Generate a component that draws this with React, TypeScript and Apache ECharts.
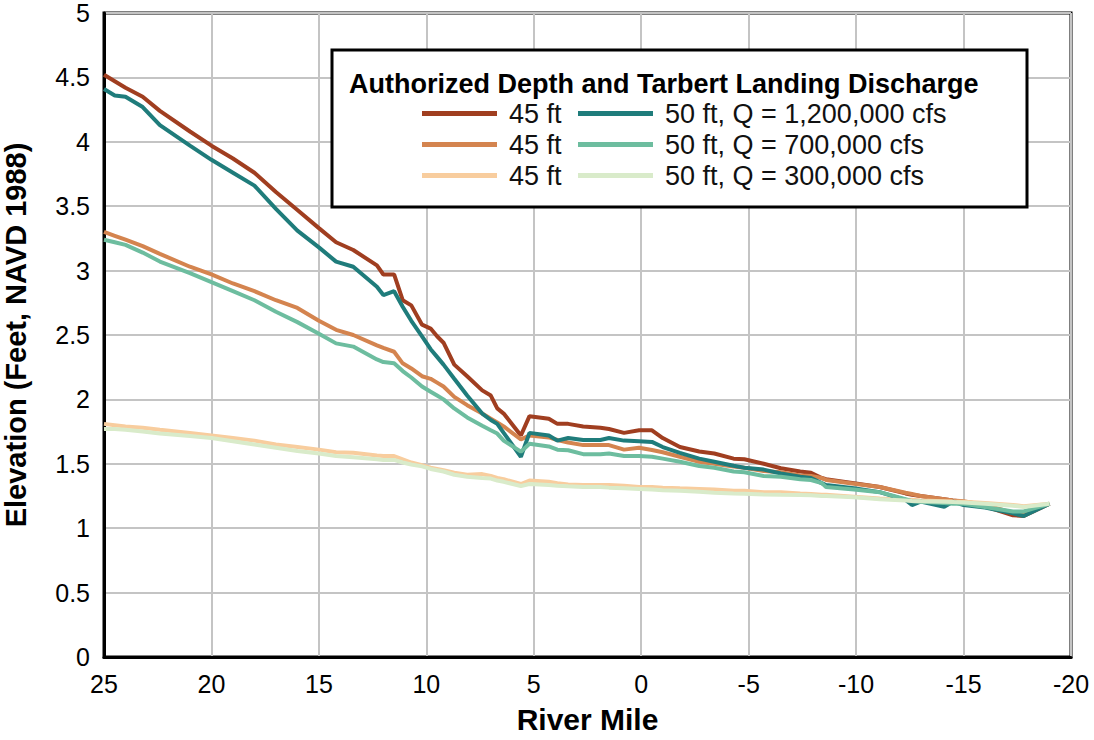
import React, { useEffect, useRef } from "react";
import * as echarts from "echarts";

// River mile positions (shared by all series)
const riverMiles = [
  25, 24.5, 24, 23.2, 22.4, 21, 20, 19, 18, 17, 16, 15, 14.2, 13.4, 12.3, 12.0, 11.5, 11.1, 10.7, 10.2,
  9.8, 9.5, 9.2, 8.7, 8.1, 7.4, 7.0, 6.7, 6.4, 5.6, 5.2, 4.3, 3.9, 3.4, 2.7, 1.9, 1.5, 0.8, 0.1, -0.5,
  -1.0, -1.8, -2.7, -3.4, -4.3, -4.8, -5.7, -6.5, -7.4, -7.9, -8.4, -8.6, -9.9, -11.1, -12.3, -12.6, -13.0, -14.1, -14.5, -15.0,
  -16.0, -17.3, -17.8, -19.0,
];

// 45 ft, Q = 1,200,000 cfs
const elev45High = [
  4.52, 4.47, 4.42, 4.35, 4.24, 4.08, 3.97, 3.87, 3.76, 3.61, 3.47, 3.33, 3.22, 3.16, 3.04, 2.97, 2.97, 2.77, 2.73, 2.58,
  2.55, 2.49, 2.44, 2.27, 2.18, 2.07, 2.03, 1.93, 1.89, 1.72, 1.87, 1.85, 1.81, 1.81, 1.79, 1.78, 1.77, 1.74, 1.76, 1.76,
  1.70, 1.63, 1.595, 1.58, 1.54, 1.535, 1.50, 1.465, 1.44, 1.43, 1.39, 1.38, 1.35, 1.32, 1.27, 1.26, 1.25, 1.225, 1.215, 1.206,
  1.17, 1.10, 1.095, 1.19,
];
// 45 ft, Q = 700,000 cfs
const elev45Mid = [
  3.30, 3.27, 3.24, 3.19, 3.13, 3.03, 2.97, 2.90, 2.84, 2.77, 2.71, 2.61, 2.54, 2.50, 2.42, 2.40, 2.37, 2.28, 2.24, 2.18,
  2.16, 2.13, 2.10, 2.02, 1.955, 1.89, 1.85, 1.82, 1.79, 1.69, 1.72, 1.705, 1.685, 1.665, 1.645, 1.645, 1.645, 1.61, 1.625, 1.607,
  1.59, 1.555, 1.516, 1.50, 1.478, 1.47, 1.444, 1.435, 1.41, 1.405, 1.39, 1.375, 1.345, 1.32, 1.275, 1.265, 1.25, 1.225, 1.215, 1.21,
  1.18, 1.12, 1.11, 1.19,
];
// 45 ft, Q = 300,000 cfs
const elev45Low = [
  1.81, 1.80, 1.79, 1.78, 1.765, 1.74, 1.72, 1.70, 1.68, 1.65, 1.63, 1.61, 1.59, 1.585, 1.565, 1.56, 1.56, 1.535, 1.51, 1.49,
  1.47, 1.46, 1.45, 1.43, 1.415, 1.42, 1.405, 1.39, 1.38, 1.343, 1.37, 1.36, 1.35, 1.34, 1.335, 1.335, 1.335, 1.33, 1.32, 1.32,
  1.315, 1.31, 1.305, 1.30, 1.29, 1.29, 1.28, 1.28, 1.27, 1.265, 1.26, 1.26, 1.245, 1.23, 1.22, 1.22, 1.215, 1.21, 1.207, 1.206,
  1.195, 1.18, 1.17, 1.19,
];
// 50 ft, Q = 1,200,000 cfs
const elev50High = [
  4.41, 4.36, 4.35, 4.27, 4.13, 3.97, 3.86, 3.76, 3.66, 3.48, 3.31, 3.18, 3.07, 3.03, 2.875, 2.81, 2.84, 2.72, 2.61, 2.49,
  2.39, 2.33, 2.27, 2.16, 2.03, 1.89, 1.84, 1.81, 1.74, 1.555, 1.74, 1.72, 1.68, 1.70, 1.685, 1.685, 1.70, 1.68, 1.675, 1.67,
  1.63, 1.585, 1.54, 1.516, 1.485, 1.47, 1.455, 1.425, 1.40, 1.39, 1.35, 1.335, 1.31, 1.28, 1.22, 1.18, 1.206, 1.167, 1.206, 1.18,
  1.16, 1.115, 1.095, 1.19,
];
// 50 ft, Q = 700,000 cfs
const elev50Mid = [
  3.24, 3.22, 3.20, 3.14, 3.07, 2.98, 2.91, 2.84, 2.77, 2.68, 2.60, 2.51, 2.435, 2.41, 2.31, 2.29, 2.28, 2.22, 2.17, 2.10,
  2.06, 2.03, 2.00, 1.93, 1.86, 1.795, 1.76, 1.735, 1.68, 1.594, 1.655, 1.635, 1.61, 1.605, 1.575, 1.575, 1.58, 1.56, 1.56, 1.555,
  1.54, 1.516, 1.483, 1.47, 1.44, 1.435, 1.405, 1.40, 1.38, 1.374, 1.35, 1.32, 1.30, 1.28, 1.225, 1.21, 1.206, 1.195, 1.19, 1.19,
  1.165, 1.13, 1.13, 1.19,
];
// 50 ft, Q = 300,000 cfs
const elev50Low = [
  1.77, 1.77, 1.765, 1.75, 1.735, 1.715, 1.70, 1.675, 1.65, 1.625, 1.60, 1.58, 1.56, 1.55, 1.535, 1.53, 1.53, 1.51, 1.495, 1.48,
  1.46, 1.45, 1.44, 1.415, 1.40, 1.39, 1.385, 1.37, 1.36, 1.328, 1.343, 1.335, 1.33, 1.325, 1.32, 1.32, 1.315, 1.31, 1.305, 1.30,
  1.295, 1.29, 1.283, 1.276, 1.27, 1.268, 1.262, 1.26, 1.258, 1.255, 1.25, 1.25, 1.24, 1.225, 1.215, 1.212, 1.21, 1.205, 1.203, 1.2,
  1.19, 1.175, 1.165, 1.19,
];

const seriesNames45 = ["45 ft, Q = 1,200,000 cfs", "45 ft, Q = 700,000 cfs", "45 ft, Q = 300,000 cfs"];
const seriesNames50 = ["50 ft, Q = 1,200,000 cfs", "50 ft, Q = 700,000 cfs", "50 ft, Q = 300,000 cfs"];
const colors45 = ["#a03e20", "#d4844f", "#f8cd9e"];
const colors50 = ["#1f7c7b", "#6dbd9f", "#d9ebca"];

const legendTitle = "Authorized Depth and Tarbert Landing Discharge";
const FONT = "'Liberation Sans', Arial, Helvetica, sans-serif";

export default function App() {
  const ref = useRef<HTMLDivElement>(null);

  useEffect(() => {
    if (!ref.current) return;
    const chart = echarts.init(ref.current, undefined, { renderer: "svg" });

    const toPairs = (vals: number[]) => riverMiles.map((m, i) => [m, vals[i]]);
    const values45 = [elev45High, elev45Mid, elev45Low];
    const values50 = [elev50High, elev50Mid, elev50Low];

    const mkSeries = (name: string, color: string, vals: number[]) => ({
      name,
      type: "line",
      data: toPairs(vals),
      showSymbol: false,
      symbol: "none",
      color,
      lineStyle: { color, width: 4 },
      itemStyle: { color },
      z: 2,
    });

    const series = [
      ...seriesNames45.map((n, i) => mkSeries(n, colors45[i], values45[i])),
      ...seriesNames50.map((n, i) => mkSeries(n, colors50[i], values50[i])),
    ];

    const legendCommon = {
      orient: "vertical",
      top: 95,
      itemWidth: 75,
      itemHeight: 5,
      itemGap: 4,
      icon: "rect",
      selectedMode: false,
      z: 10,
      textStyle: {
        fontFamily: FONT,
        fontSize: 27,
        color: "#111",
        lineHeight: 26.5,
        padding: [0, 0, 0, 7],
      },
    };

    chart.setOption({
      animation: false,
      textStyle: { fontFamily: FONT },
      grid: {
        left: 104,
        right: 23,
        top: 13,
        bottom: 83,
        show: true,
        borderColor: "#000",
        borderWidth: 3,
        backgroundColor: "transparent",
        outerBoundsMode: "none",
        containLabel: false,
      },
      xAxis: {
        type: "value",
        inverse: true,
        min: -20,
        max: 25,
        interval: 5,
        name: "River Mile",
        nameLocation: "middle",
        nameGap: 47,
        nameTextStyle: { fontFamily: FONT, fontSize: 30, fontWeight: "bold", color: "#000" },
        axisLine: { show: true, onZero: false, lineStyle: { color: "#000", width: 3 } },
        axisTick: { show: false },
        axisLabel: { fontFamily: FONT, fontSize: 25, color: "#000", margin: 14 },
        splitLine: { show: true, lineStyle: { color: "#c4c4c4", width: 2 } },
      },
      yAxis: {
        type: "value",
        min: 0,
        max: 5,
        interval: 0.5,
        name: "Elevation (Feet, NAVD 1988)",
        nameLocation: "middle",
        nameGap: 74,
        nameTextStyle: { fontFamily: FONT, fontSize: 29, fontWeight: "bold", color: "#000" },
        axisLine: { show: true, onZero: false, lineStyle: { color: "#000", width: 3 } },
        axisTick: { show: false },
        axisLabel: { fontFamily: FONT, fontSize: 25, color: "#000", margin: 14 },
        splitLine: { show: true, lineStyle: { color: "#c4c4c4", width: 2 } },
      },
      legend: [
        {
          ...legendCommon,
          left: 417,
          data: seriesNames45,
          formatter: () => "45 ft",
        },
        {
          ...legendCommon,
          left: 573,
          data: seriesNames50,
        },
      ],
      graphic: [
        {
          type: "rect",
          z: 8,
          shape: { x: 332, y: 50, width: 695, height: 157 },
          style: { fill: "#fff", stroke: "#000", lineWidth: 3 },
        },
        {
          type: "text",
          z: 9,
          x: 349,
          y: 84,
          style: {
            text: legendTitle,
            fontFamily: FONT,
            fontSize: 27,
            fontWeight: "bold",
            fill: "#000",
            verticalAlign: "middle",
            align: "left",
          },
        },
      ],
      series,
    });

    return () => chart.dispose();
  }, []);

  return (
    <div
      ref={ref}
      style={{ position: "absolute", left: 0, top: 0, width: 1094, height: 740, background: "#fff" }}
    />
  );
}
